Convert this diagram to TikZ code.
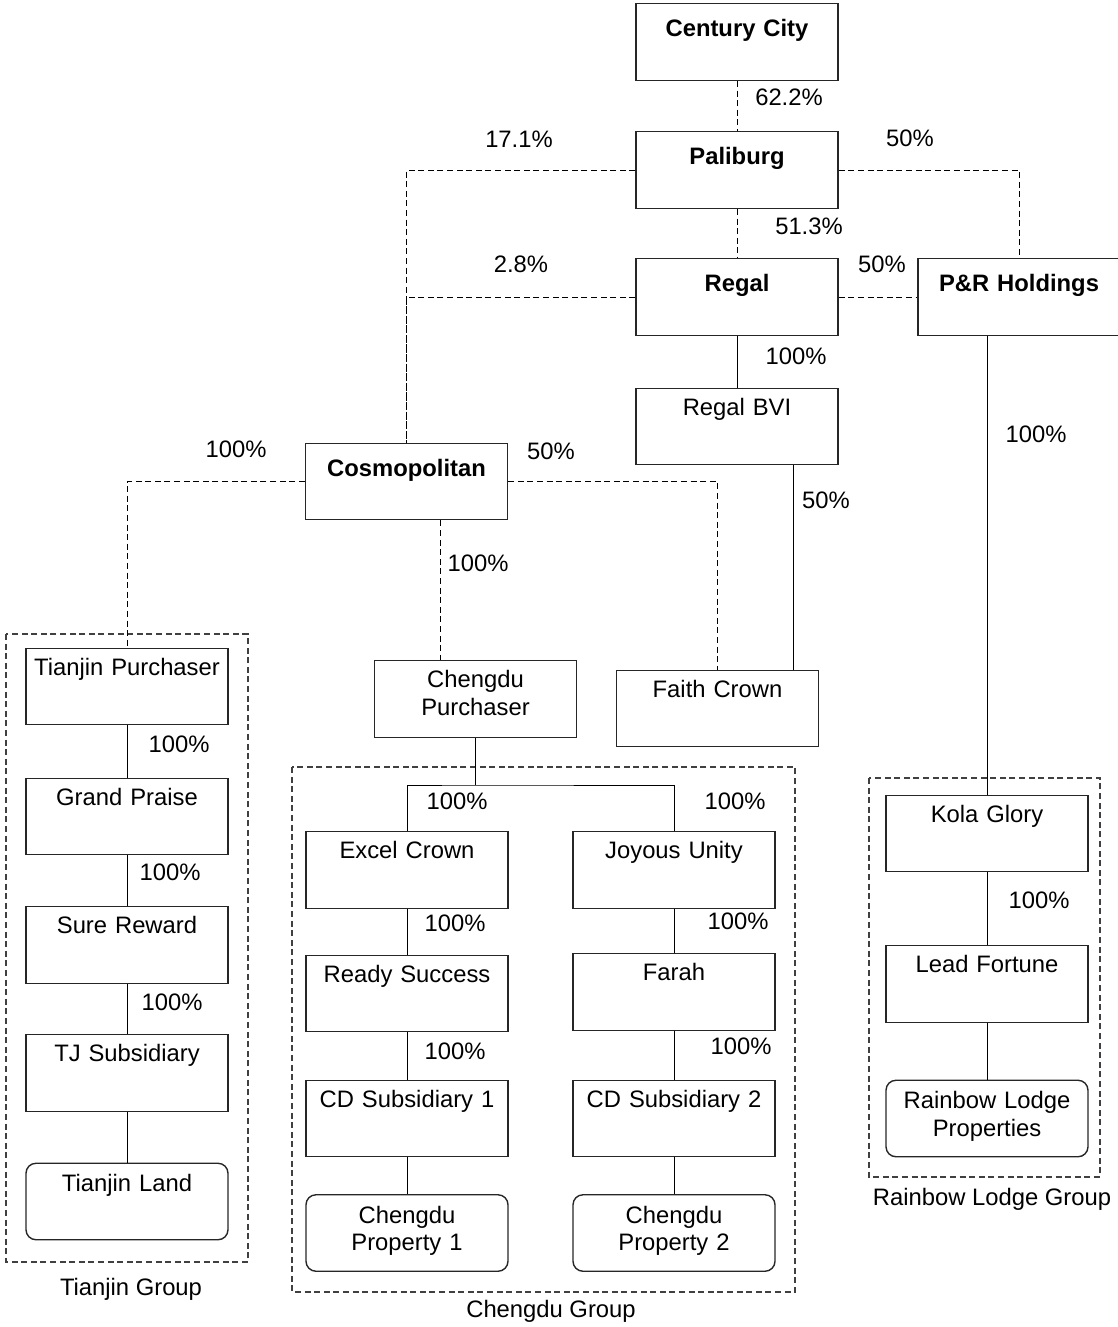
\documentclass[tikz,border=0pt]{standalone}
\usepackage{fontspec}
\setmainfont{Liberation Sans}

\begin{document}
\begin{tikzpicture}[x=0.5pt,y=-0.5pt,
  font=\fontsize{11.9}{13.7}\selectfont,
  empresa/.style={draw=black!85,line width=0.7pt,inner xsep=0pt,inner ysep=0pt,
    text width=101pt,align=center,text height=13.5pt,text depth=24.75pt},
  matriz/.style={empresa,font=\fontsize{11.9}{13.7}\selectfont\bfseries,
    text height=16.5pt,text depth=21.75pt},
  activo/.style={empresa,rounded corners=5pt,text height=14.2pt,text depth=24.05pt},
  directo/.style={line width=0.5pt},
  indirecto/.style={line width=0.5pt,dash pattern=on 3pt off 1.8pt},
  grupo/.style={draw=black!75,line width=0.6pt,dash pattern=on 3pt off 1.8pt},
  pct/.style={inner sep=0pt}]
  \useasboundingbox (0,0) rectangle (1118,1327);

  % Recuadros de los grupos
  \draw[grupo] (6,634) rectangle (248,1262);
  \draw[grupo] (292,767) rectangle (795,1292);
  \draw[grupo] (869,778) rectangle (1100,1177);
  \node[pct,anchor=base] (gtj) at (131,1295.5) {Tianjin Group};
  \node[pct,anchor=base] (gcd) at (551,1317.5) {Chengdu Group};
  \node[pct,anchor=base] (grl) at (992,1205.5) {Rainbow Lodge Group};

  % Sociedades principales
  \node[matriz] (cc) at (737,42) {Century City};
  \node[matriz] (pal) at (737,170) {Paliburg};
  \node[matriz] (reg) at (737,297) {Regal};
  \node[matriz] (pr) at (1019,297) {P\&R Holdings};
  \node[empresa] (bvi) at (737,426.5) {Regal BVI};
  \node[matriz] (cos) at (406.5,481.5) {Cosmopolitan};
  \node[empresa] (fc) at (717.5,708.5) {Faith Crown};
  \node[empresa] (cp) at (475.5,699) {Chengdu\\Purchaser};

  % Grupo Tianjin
  \node[empresa] (tp) at (127,686.5) {Tianjin Purchaser};
  \node[empresa] (gp) at (127,816.5) {Grand Praise};
  \node[empresa] (sr) at (127,945) {Sure Reward};
  \node[empresa] (tjs) at (127,1073) {TJ Subsidiary};
  \node[activo] (tl) at (127,1201.5) {Tianjin Land};

  % Grupo Chengdu
  \node[empresa] (ec) at (407,870) {Excel Crown};
  \node[empresa] (rs) at (407,993.5) {Ready Success};
  \node[empresa] (cd1) at (407,1118.5) {CD Subsidiary 1};
  \node[activo] (cpp1) at (407,1233) {Chengdu\\Property 1};
  \node[empresa] (ju) at (674,870) {Joyous Unity};
  \node[empresa] (fa) at (674,992) {Farah};
  \node[empresa] (cd2) at (674,1118.5) {CD Subsidiary 2};
  \node[activo] (cpp2) at (674,1233) {Chengdu\\Property 2};

  % Grupo Rainbow Lodge
  \node[empresa] (kg) at (987,833.5) {Kola Glory};
  \node[empresa] (lf) at (987,984) {Lead Fortune};
  \node[activo] (rl) at (987,1118.5) {Rainbow Lodge\\Properties};

  % Participaciones indirectas (discontinuas)
  \draw[indirecto] (cc.south) -- (pal.north);
  \draw[indirecto] (pal.south) -- (reg.north);
  \draw[indirecto] (pal.west) -| (cos.north);
  \draw[indirecto] (reg.west) -| (cos.north);
  \draw[indirecto] (pal.east) -| (pr.north);
  \draw[indirecto] (reg.east) -- (pr.west);
  \draw[indirecto] (cos.east) -| (fc.north);
  \draw[indirecto] (cos.west) -| (tp.north);
  \draw[indirecto] ([xshift=17pt]cos.south) -- ([xshift=17pt]cos.south |- cp.north);

  % Participaciones directas
  \draw[directo] (reg.south) -- (bvi.north);
  \draw[directo] (kg.north) -- (kg.north |- pr.south);
  \draw[directo] ([xshift=28pt]bvi.south) -- ([xshift=28pt]bvi.south |- fc.north);
  \coordinate (cbus) at (475.5,785);
  \draw[directo] (cp.south) -- (cbus);
  \draw[directo] (ec.north) |- (cbus) -| (ju.north);
  \foreach \a/\b in {tp/gp,gp/sr,sr/tjs,tjs/tl,ec/rs,rs/cd1,cd1/cpp1,
                     ju/fa,fa/cd2,cd2/cpp2,kg/lf,lf/rl}
    \draw[directo] (\a.south) -- (\b.north);

  % Porcentajes
  \node[pct] (p1) at (789,97) {62.2\%};
  \node[pct] (p2) at (519,139) {17.1\%};
  \node[pct] (p3) at (910,138) {50\%};
  \node[pct] (p4) at (809,226) {51.3\%};
  \node[pct] (p5) at (521,264) {2.8\%};
  \node[pct] (p6) at (882,264) {50\%};
  \node[pct] (p7) at (796,356) {100\%};
  \node[pct] (p8) at (1036,434) {100\%};
  \node[pct] (p9) at (236,449) {100\%};
  \node[pct] (p10) at (551,451) {50\%};
  \node[pct] (p11) at (826,500) {50\%};
  \node[pct] (p12) at (478,563) {100\%};
  \node[pct] (p13) at (179,744) {100\%};
  \node[pct] (p14) at (457,801) {100\%};
  \node[pct] (p15) at (735,801) {100\%};
  \node[pct] (p16) at (170,872) {100\%};
  \node[pct] (p17) at (455,923) {100\%};
  \node[pct] (p18) at (738,921) {100\%};
  \node[pct] (p19) at (1039,900) {100\%};
  \node[pct] (p20) at (172,1002) {100\%};
  \node[pct] (p21) at (455,1051) {100\%};
  \node[pct] (p22) at (741,1046) {100\%};

\end{tikzpicture}
\end{document}
